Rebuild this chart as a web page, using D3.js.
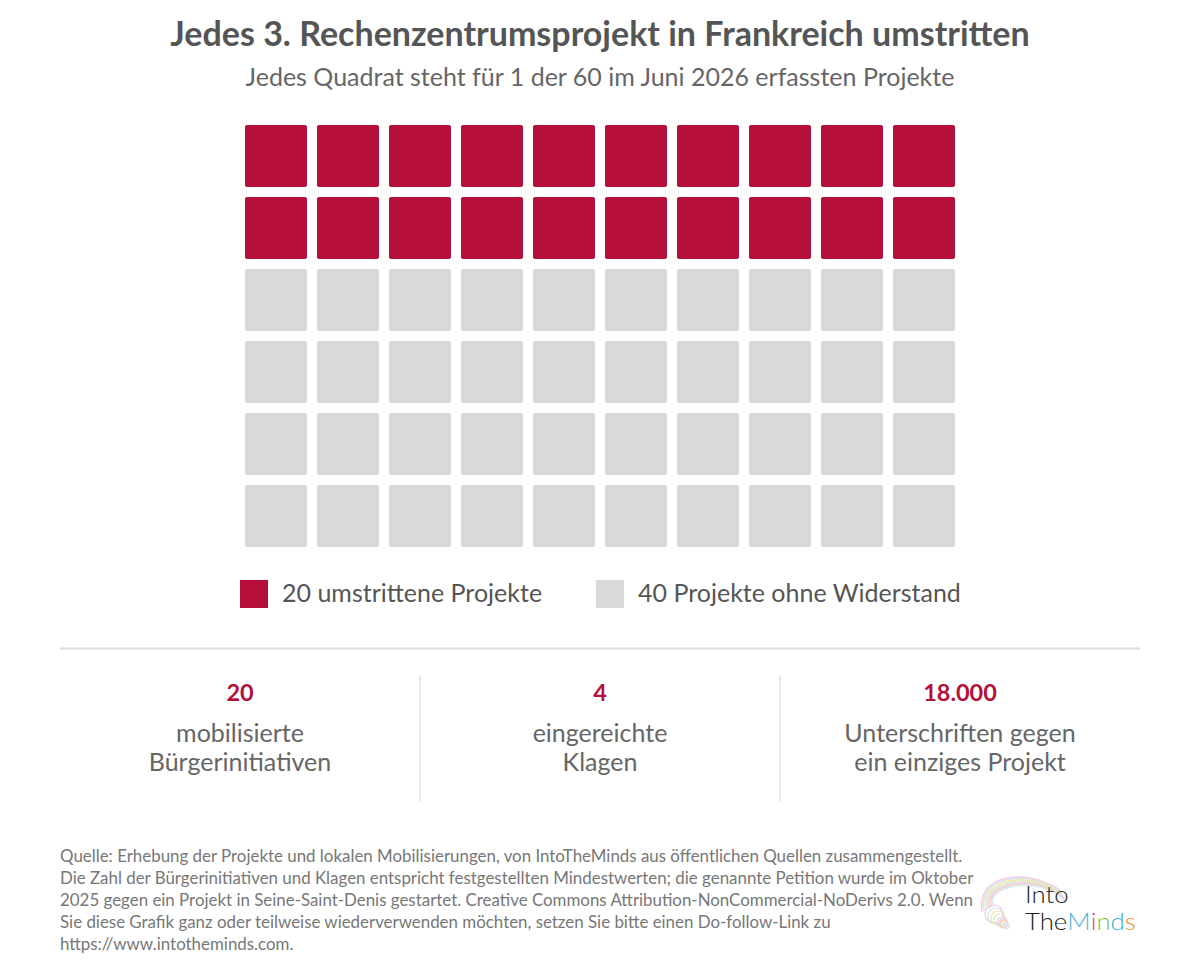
<!DOCTYPE html>
<html>
<head>
<meta charset="utf-8">
<script src="https://cdn.jsdelivr.net/npm/d3@7"></script>
<style>
  body { margin: 0; background: #fff; }
  svg text { font-family: Lato, "Open Sans", sans-serif; }
</style>
</head>
<body>
<div id="chart"></div>
<script>
// Data
const categories = ['20 umstrittene Projekte', '40 Projekte ohne Widerstand'];
const categoryCounts = [20, 40];
const categoryColors = ['#b50f3a', '#d9d9d9'];
const statValues = ['20', '4', '18.000'];
const statLabels = [
    ['mobilisierte', 'Bürgerinitiativen'],
    ['eingereichte', 'Klagen'],
    ['Unterschriften gegen', 'ein einziges Projekt']
];
const sourceLines = [
    'Quelle: Erhebung der Projekte und lokalen Mobilisierungen, von IntoTheMinds aus öffentlichen Quellen zusammengestellt.',
    'Die Zahl der Bürgerinitiativen und Klagen entspricht festgestellten Mindestwerten; die genannte Petition wurde im Oktober',
    '2025 gegen ein Projekt in Seine-Saint-Denis gestartet. Creative Commons Attribution-NonCommercial-NoDerivs 2.0. Wenn',
    'Sie diese Grafik ganz oder teilweise wiederverwenden möchten, setzen Sie bitte einen Do-follow-Link zu',
    'https://www.intotheminds.com.'
];

const width = 1200, height = 975;
const nCols = 10, nRows = 6;

const svg = d3.select('#chart').append('svg')
    .attr('width', width)
    .attr('height', height);

// Title & subtitle
svg.append('text')
    .attr('x', width / 2).attr('y', 46)
    .attr('text-anchor', 'middle')
    .attr('font-size', 34).attr('font-weight', 700)
    .attr('fill', '#555')
    .text('Jedes 3. Rechenzentrumsprojekt in Frankreich umstritten');

svg.append('text')
    .attr('x', width / 2).attr('y', 86)
    .attr('text-anchor', 'middle')
    .attr('font-size', 25)
    .attr('fill', '#666')
    .text('Jedes Quadrat steht für 1 der 60 im Juni 2026 erfassten Projekte');

// Build cell list from category counts
const cells = [];
categoryCounts.forEach((c, ci) => {
    for (let k = 0; k < c; k++) cells.push({ cat: ci });
});
cells.forEach((d, i) => { d.col = i % nCols; d.row = Math.floor(i / nCols); });

const xScale = d3.scaleBand().domain(d3.range(nCols)).range([245, 955]).paddingInner(10 / 72);
const yScale = d3.scaleBand().domain(d3.range(nRows)).range([125, 547]).paddingInner(10 / 72);
const color = d3.scaleOrdinal().domain(d3.range(categories.length)).range(categoryColors);

svg.append('g').selectAll('rect')
    .data(cells)
    .join('rect')
    .attr('x', d => xScale(d.col))
    .attr('y', d => yScale(d.row))
    .attr('width', xScale.bandwidth())
    .attr('height', yScale.bandwidth())
    .attr('rx', 2)
    .attr('fill', d => color(d.cat));

// Legend
const legendX = [240, 596];
const legend = svg.append('g').selectAll('g')
    .data(categories)
    .join('g')
    .attr('transform', (d, i) => `translate(${legendX[i]},580)`);

legend.append('rect')
    .attr('width', 28).attr('height', 28)
    .attr('fill', (d, i) => color(i));

legend.append('text')
    .attr('x', 42).attr('y', 22)
    .attr('font-size', 25)
    .attr('fill', '#555')
    .text(d => d);

// Divider
svg.append('line')
    .attr('x1', 60).attr('x2', 1140)
    .attr('y1', 648.5).attr('y2', 648.5)
    .attr('stroke', '#dcdcdc').attr('stroke-width', 2);

// Stats
const statX = d3.scaleBand().domain(d3.range(statValues.length)).range([60, 1140]);

svg.append('g').selectAll('line')
    .data(d3.range(1, statValues.length))
    .join('line')
    .attr('x1', d => statX(d)).attr('x2', d => statX(d))
    .attr('y1', 676).attr('y2', 801)
    .attr('stroke', '#e0e0e0').attr('stroke-width', 1.5);

const stat = svg.append('g').selectAll('g')
    .data(statValues)
    .join('g')
    .attr('transform', (d, i) => `translate(${statX(i) + statX.bandwidth() / 2},0)`);

stat.append('text')
    .attr('y', 701)
    .attr('text-anchor', 'middle')
    .attr('font-size', 23.5).attr('font-weight', 700)
    .attr('fill', '#b50f3a')
    .text(d => d);

stat.selectAll('text.lbl')
    .data((d, i) => statLabels[i])
    .join('text')
    .attr('class', 'lbl')
    .attr('y', (d, j) => 742 + j * 29)
    .attr('text-anchor', 'middle')
    .attr('font-size', 25)
    .attr('fill', '#666')
    .text(d => d);

// Source
svg.append('g').selectAll('text')
    .data(sourceLines)
    .join('text')
    .attr('x', 60)
    .attr('y', (d, i) => 862 + i * 22)
    .attr('font-size', 16.9)
    .attr('fill', '#777')
    .text(d => d);

// Logo
const logo = svg.append('g').attr('transform', 'translate(978,868)');
const swirlColors = ['#f7c6d9', '#c9e4f5', '#f9e3a3', '#d7ecc4', '#e6d0f0', '#f6c9b3', '#cfe8f7'];
swirlColors.forEach((c, i) => {
    logo.append('path')
        .attr('d', `M${4 + i * 2},${44 - i} C${-2 + i},${8 + i * 2} ${44 + i * 3},${-2 + i} ${82 + i},${22 + i * 2}`)
        .attr('fill', 'none')
        .attr('stroke', c)
        .attr('stroke-width', 1.5)
        .attr('opacity', 0.9);
    logo.append('circle')
        .attr('cx', 16 + i * 2).attr('cy', 46 + i * 2)
        .attr('r', 9 - i)
        .attr('fill', 'none')
        .attr('stroke', c)
        .attr('stroke-width', 1.2);
});
const logoFont = '"DejaVu Sans", sans-serif';
logo.append('text')
    .attr('transform', 'translate(47,35) scale(1.12,1)')
    .attr('font-family', logoFont)
    .attr('font-size', 23).attr('font-weight', 300)
    .attr('fill', '#222')
    .text('Into');
const line2 = logo.append('text')
    .attr('transform', 'translate(47,62) scale(1.12,1)')
    .attr('font-family', logoFont)
    .attr('font-size', 23).attr('font-weight', 300);
const logoLetters = [['The', '#222'], ['M', '#4fb6e3'], ['i', '#e23d7a'], ['n', '#7dc243'], ['d', '#3fa9c9'], ['s', '#f08a24']];
logoLetters.forEach(([t, c]) => line2.append('tspan').attr('fill', c).text(t));
</script>
</body>
</html>
